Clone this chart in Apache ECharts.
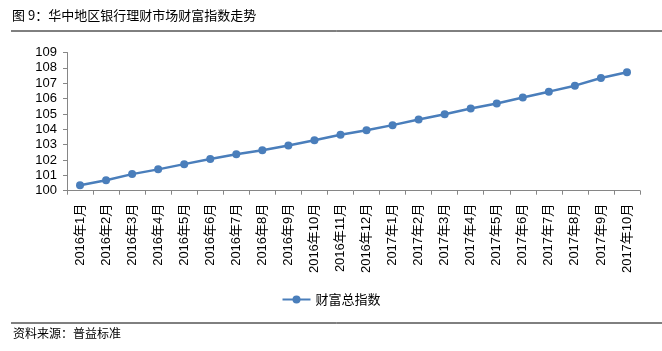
<!DOCTYPE html>
<html>
<head>
<meta charset="utf-8">
<script src="https://cdn.jsdelivr.net/npm/echarts@6/dist/echarts.min.js"></script>
<style>
  html, body { margin: 0; padding: 0; background: #fff; }
  #wealthIndex { width: 662px; height: 351px; }
</style>
</head>
<body>
<div id="wealthIndex"></div>
<script>
// 华中地区银行理财市场财富指数
const months = [
  '2016年1月', '2016年2月', '2016年3月', '2016年4月', '2016年5月', '2016年6月',
  '2016年7月', '2016年8月', '2016年9月', '2016年10月', '2016年11月', '2016年12月',
  '2017年1月', '2017年2月', '2017年3月', '2017年4月', '2017年5月', '2017年6月',
  '2017年7月', '2017年8月', '2017年9月', '2017年10月'
];
const wealthIndex = [
  100.35, 100.68, 101.08, 101.39, 101.73, 102.06, 102.38, 102.63, 102.95, 103.29, 103.64,
  103.94, 104.27, 104.64, 104.98, 105.35, 105.68, 106.07, 106.45, 106.84, 107.34, 107.71
];
const seriesName = '财富总指数';
const titleText = '图 9：华中地区银行理财市场财富指数走势';
const sourceText = '资料来源：普益标准';

const font = '"Noto Sans CJK SC", "Liberation Sans", sans-serif';
const chart = echarts.init(document.getElementById('wealthIndex'));

const option = {
  animation: false,
  textStyle: { fontFamily: font },
  graphic: [
    {
      type: 'text', left: 12, top: 9,
      style: { text: titleText, fontSize: 13, fill: '#000', fontFamily: font }
    },
    {
      type: 'line',
      shape: { x1: 11, y1: 31, x2: 662, y2: 31 },
      style: { stroke: '#000', lineWidth: 1 }
    },
    {
      type: 'line',
      shape: { x1: 11, y1: 323, x2: 662, y2: 323 },
      style: { stroke: '#000', lineWidth: 1 }
    },
    {
      type: 'text', left: 13, top: 327,
      style: { text: sourceText, fontSize: 12, fill: '#000', fontFamily: font }
    }
  ],
  legend: {
    top: 288,
    left: 'center',
    itemWidth: 28,
    itemHeight: 10,
    textStyle: { fontSize: 13, color: '#000', fontFamily: font },
    data: [seriesName]
  },
  grid: { left: 67, right: 22, top: 52.5, bottom: 160.3 },
  xAxis: {
    type: 'category',
    data: months,
    boundaryGap: true,
    axisLine: { lineStyle: { color: '#868686' } },
    axisTick: { show: true, length: 4, alignWithLabel: false, lineStyle: { color: '#868686' } },
    axisLabel: {
      interval: 0,
      rotate: 90,
      margin: 13,
      fontSize: 13,
      color: '#000',
      fontFamily: '"Liberation Sans", "Noto Sans CJK SC", sans-serif'
    }
  },
  yAxis: {
    type: 'value',
    min: 100,
    max: 109,
    interval: 1,
    splitLine: { show: false },
    axisLine: { show: true, lineStyle: { color: '#868686' } },
    axisTick: { show: true, length: 4, lineStyle: { color: '#868686' } },
    axisLabel: { fontSize: 13, color: '#000', margin: 10, fontFamily: '"Liberation Sans", sans-serif' }
  },
  series: [
    {
      name: seriesName,
      type: 'line',
      data: wealthIndex,
      symbol: 'circle',
      symbolSize: 8,
      lineStyle: { color: '#4a7ebb', width: 2.5 },
      itemStyle: { color: '#4a7ebb' }
    }
  ]
};

chart.setOption(option);
</script>
</body>
</html>
